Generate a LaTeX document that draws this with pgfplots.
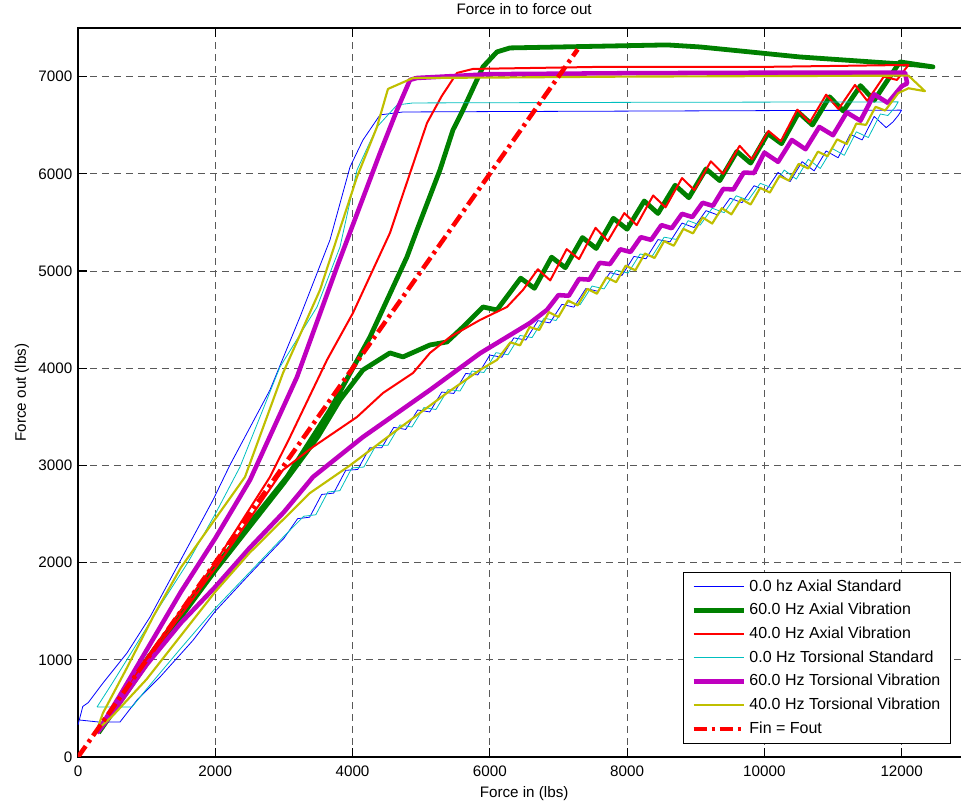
\documentclass[border=0pt]{standalone}
\usepackage{fontspec}
\setmainfont{Liberation Sans}
\usepackage{pgfplots}
\pgfplotsset{compat=1.18}
\definecolor{mblue}{rgb}{0,0,1}
\definecolor{mgreen}{rgb}{0,0.5,0}
\definecolor{mred}{rgb}{1,0,0}
\definecolor{mcyan}{rgb}{0,0.75,0.75}
\definecolor{mmag}{rgb}{0.75,0,0.75}
\definecolor{myel}{rgb}{0.75,0.75,0}
\pgfplotsset{legend image code/.code={\draw[#1] (0pt,0pt) -- (37.5pt,0pt);}}
\begin{document}
\begin{tikzpicture}
\begin{axis}[
 at={(0pt,0pt)}, anchor=south west,
 scale only axis, width=669.2pt, height=546.75pt,
 xmin=0, xmax=13000, ymin=0, ymax=7500,
 xtick={0,2000,...,12000}, ytick={0,1000,...,7000},
 tick align=inside, major tick length=6.5pt,
 axis line style={line width=0.8pt},
 every tick/.style={black, line width=0.8pt},
 grid=major, major grid style={black!65, line width=0.6pt, dash pattern=on 5pt off 4pt},
 scaled ticks=false,
 /pgf/number format/assume math mode=true,
 /pgf/number format/1000 sep={},
 ticklabel style={font=\fontsize{11.4}{13}\selectfont},
 xticklabel style={yshift=-3pt},
 yticklabel style={xshift=-0.8pt},
 xlabel={Force in (lbs)}, ylabel={Force out (lbs)},
 label style={font=\fontsize{11.4}{13}\selectfont},
 xlabel style={at={(axis description cs:0.5,-0.0549)}, anchor=base},
 ylabel style={at={(axis description cs:-0.0583,0.5)}, anchor=base, rotate=0},
 title={Force in to force out},
 title style={font=\fontsize{11.4}{13}\selectfont, at={(axis description cs:0.5,1)}, anchor=base, yshift=0pt},
 every axis title shift=9.75pt,
 legend cell align=left,
 legend style={at={(rel axis cs:0.978,0.019)}, anchor=south east,
   font=\fontsize{12}{14}\selectfont, draw=black, fill=white,
   inner xsep=6pt, inner ysep=3.3pt,
   nodes={inner sep=1.5pt, text height=9pt, text depth=2.5pt},
   row sep=3.25pt, column sep=1pt},
 every axis plot/.append style={line join=round},
]
% 0.0 hz Axial Standard
\addplot[mblue, line width=0.6pt] coordinates {
(0,330) (70,520) (150,560) (364,761) (714,1070) (1049,1440) (1442,1955) (1967,2644) (2214,3004) (2797,3776) (3234,4527) (3671,5319) (3963,6070) (4152,6348) (4400,6606) (4735,6636) (6000,6640) (8000,6645) (10000,6650) (12000,6655) (11950,6600) (11873,6533) (11775,6475) (11600,6590) (11425,6348) (11250,6407) (11075,6165) (10900,6235) (10725,6030) (10550,6125) (10375,5920) (10200,6014) (10025,5829) (9850,5877) (9675,5703) (9500,5749) (9325,5575) (9150,5621) (8975,5447) (8800,5493) (8625,5300) (8450,5323) (8275,5126) (8100,5150) (7925,4954) (7750,4983) (7575,4791) (7400,4820) (7225,4628) (7050,4657) (6875,4466) (6700,4489) (6525,4290) (6350,4312) (6175,4113) (6000,4135) (5825,3931) (5650,3946) (5475,3740) (5300,3755) (5125,3550) (4950,3570) (4775,3370) (4600,3391) (4425,3182) (4250,3180) (4075,2958) (3900,2949) (3725,2715) (3550,2701) (3375,2467) (3200,2452) (3000,2250) (2500,1880) (2000,1500) (1675,1200) (1195,823) (860,586) (612,360) (300,360) (30,380)
};
\addlegendentry{0.0 hz Axial Standard}
% 60.0 Hz Axial Vibration
\addplot[mgreen, line width=3.6pt] coordinates {
(300,250) (1000,960) (2000,1920) (3000,2820) (3500,3300) (3817,3673) (4152,3982) (4545,4157) (4735,4116) (5128,4239) (5376,4270) (5609,4424) (5900,4630) (6104,4599) (6450,4926) (6650,4822) (6900,5142) (7100,5034) (7350,5344) (7550,5232) (7800,5542) (8000,5430) (8250,5720) (8450,5592) (8700,5882) (8900,5754) (9150,6050) (9350,5930) (9600,6230) (9800,6110) (10050,6414) (10250,6310) (10500,6630) (10700,6502) (10950,6792) (11150,6646) (11400,6907) (11600,6756) (11830,7000) (11975,7151) (12456,7100) (12200,7120) (10519,7202) (9062,7305) (8581,7326) (6294,7295) (6104,7254) (5900,7100) (5609,6657) (5463,6451) (5274,6040) (4939,5422) (4793,5145) (4254,4321) (3671,3570) (3045,2881) (2000,1960) (1000,1000) (300,250)
};
\addlegendentry{60.0 Hz Axial Vibration}
% 40.0 Hz Axial Vibration
\addplot[mred, line width=1.5pt] coordinates {
(300,280) (1000,980) (2000,1940) (2500,2450) (2987,2953) (3424,3190) (4065,3498) (4444,3745) (4881,3951) (5128,4157) (5420,4321) (5857,4496) (6250,4630) (6483,4805) (6700,5018) (6880,4903) (7120,5225) (7300,5122) (7540,5444) (7720,5309) (7960,5596) (8140,5472) (8380,5777) (8560,5655) (8800,5956) (8980,5832) (9220,6128) (9400,6000) (9640,6288) (9820,6149) (10060,6441) (10240,6335) (10480,6660) (10660,6528) (10900,6814) (11080,6666) (11320,6914) (11500,6750) (11740,7000) (11932,6966) (12078,7100) (12100,7120) (10000,7100) (7605,7100) (5755,7079) (5522,7038) (5300,6800) (5085,6523) (4691,5700) (4545,5391) (4006,4568) (3628,4085) (3089,3292) (2797,2881) (2000,2000) (1000,1020) (300,280)
};
\addlegendentry{40.0 Hz Axial Vibration}
% 0.0 Hz Torsional Standard
\addplot[mcyan, line width=0.6pt] coordinates {
(277,514) (500,760) (800,1100) (1200,1560) (1600,2000) (2000,2500) (2360,2984) (2943,4013) (3482,4630) (3817,5247) (4065,6039) (4356,6482) (4648,6708) (4881,6729) (8000,6735) (11950,6740) (11900,6680) (11800,6600) (11690,6615) (11515,6373) (11340,6432) (11165,6190) (10990,6260) (10815,6055) (10640,6150) (10465,5945) (10290,6039) (10115,5854) (9940,5902) (9765,5728) (9590,5774) (9415,5600) (9240,5646) (9065,5472) (8890,5518) (8715,5325) (8540,5348) (8365,5151) (8190,5175) (8015,4979) (7840,5008) (7665,4816) (7490,4845) (7315,4653) (7140,4682) (6965,4491) (6790,4514) (6615,4315) (6440,4337) (6265,4138) (6090,4160) (5915,3956) (5740,3971) (5565,3765) (5390,3780) (5215,3575) (5040,3595) (4865,3395) (4690,3416) (4515,3207) (4340,3205) (4165,2983) (3990,2974) (3815,2740) (3640,2726) (3465,2492) (3290,2477) (3000,2270) (2500,1900) (2000,1530) (1500,1120) (1000,700) (787,514) (277,514)
};
\addlegendentry{0.0 Hz Torsional Standard}
% 60.0 Hz Torsional Vibration
\addplot[mmag, line width=3.4pt] coordinates {
(277,247) (500,450) (1000,950) (1500,1380) (2000,1750) (2500,2150) (3000,2520) (3424,2881) (4152,3292) (5128,3776) (5857,4153) (6585,4465) (6833,4600) (7000,4752) (7150,4745) (7300,4918) (7450,4911) (7600,5084) (7750,5071) (7900,5223) (8050,5196) (8200,5348) (8350,5320) (8500,5472) (8650,5440) (8800,5588) (8950,5555) (9100,5702) (9250,5670) (9400,5844) (9550,5839) (9700,6013) (9850,6008) (10000,6218) (10200,6123) (10400,6348) (10600,6253) (10800,6482) (11000,6397) (11200,6631) (11400,6546) (11600,6818) (11800,6729) (12000,6900) (12080,6930) (12050,7040) (10000,7040) (8000,7035) (6000,7025) (4939,6986) (4837,6966) (4648,6657) (4400,6214) (3773,5042) (3191,3910) (2506,2850) (2000,2250) (1500,1700) (1000,1100) (600,620) (277,247)
};
\addlegendentry{60.0 Hz Torsional Vibration}
% 40.0 Hz Torsional Vibration
\addplot[myel, line width=1.6pt] coordinates {
(277,278) (500,420) (1000,800) (1500,1250) (2000,1700) (2500,2100) (3000,2450) (3380,2716) (3963,3000) (4648,3365) (5376,3745) (5857,3982) (6104,4085) (6300,4266) (6440,4235) (6580,4424) (6720,4393) (6860,4577) (7000,4527) (7140,4697) (7280,4646) (7420,4816) (7560,4766) (7700,4935) (7840,4885) (7980,5055) (8120,5007) (8260,5180) (8400,5134) (8540,5307) (8680,5260) (8820,5433) (8960,5387) (9100,5551) (9240,5488) (9380,5646) (9520,5583) (9660,5741) (9800,5684) (9940,5855) (10080,5807) (10220,5978) (10360,5930) (10500,6102) (10640,6055) (10780,6228) (10920,6181) (11060,6354) (11200,6307) (11340,6517) (11480,6503) (11620,6689) (11760,6651) (11950,6830) (12100,6880) (12340,6850) (12100,7010) (10000,7005) (8000,7000) (6000,6990) (4881,6986) (4516,6873) (4356,6482) (4065,5968) (3526,4805) (2987,3951) (2433,2881) (2000,2450) (1500,1950) (1100,1450) (700,900) (364,453) (277,278)
};
\addlegendentry{40.0 Hz Torsional Vibration}
% Fin = Fout
\addplot[mred, line width=3.4pt, dash pattern=on 10pt off 3.5pt on 2.5pt off 3.5pt] coordinates {
(0,0) (7280,7280)
};
\addlegendentry{Fin = Fout}
\end{axis}
\pgfresetboundingbox
\path[use as bounding box] (-58.5pt,-36.75pt) rectangle (662.25pt,567.75pt);
\end{tikzpicture}
\end{document}
